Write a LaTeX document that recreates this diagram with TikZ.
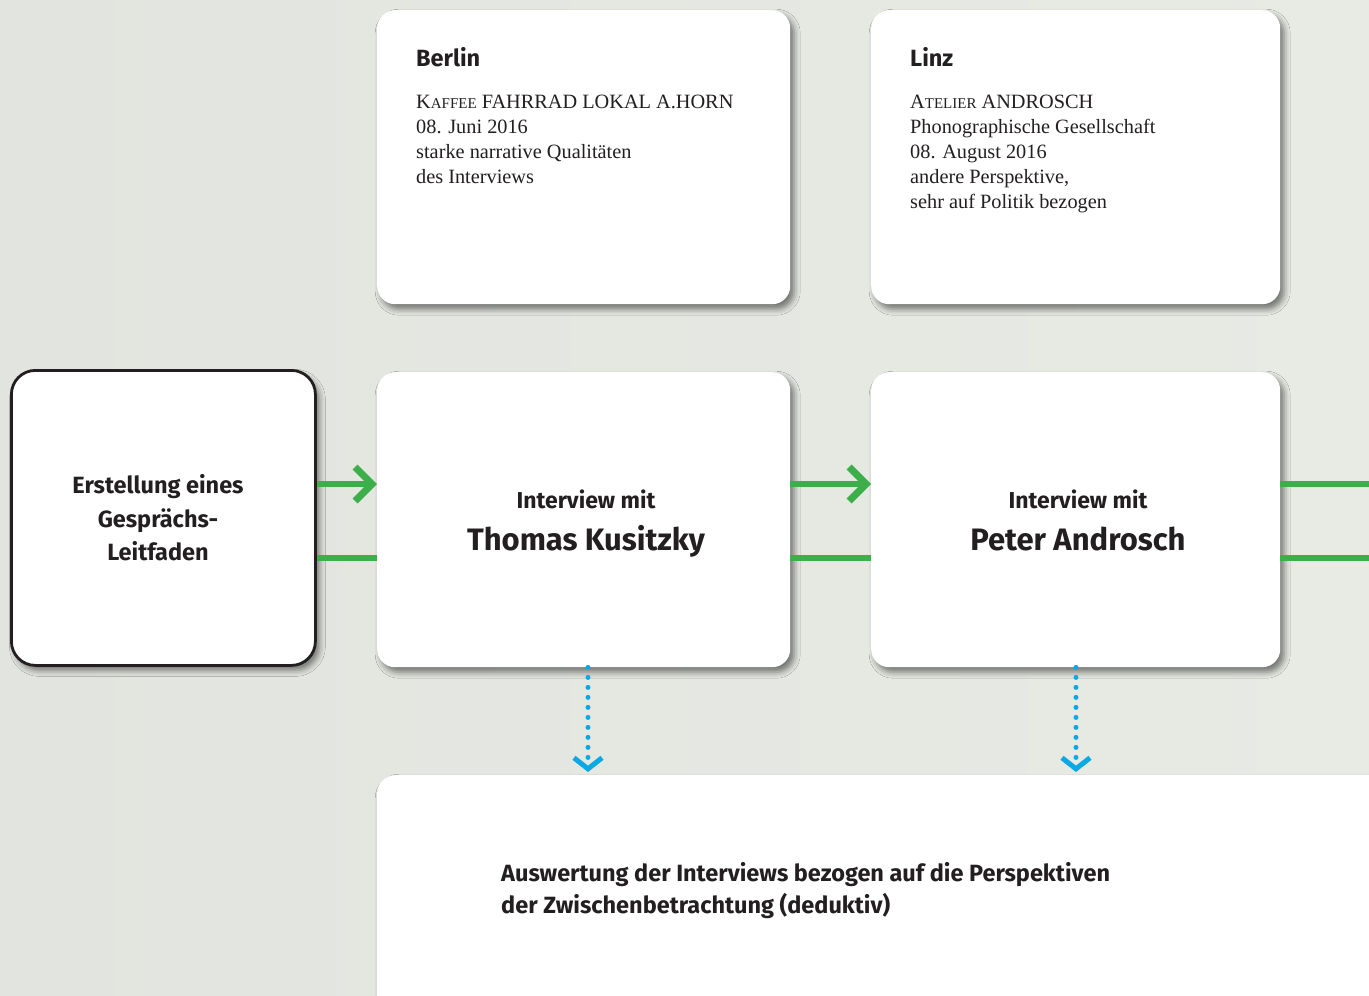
\documentclass[tikz,border=0pt]{standalone}
\usepackage{fontspec}
\setmainfont{Liberation Serif}
\newfontfamily\dinfont{Fira Sans}
\usetikzlibrary{shadows.blur,arrows.meta}
\definecolor{bgL}{HTML}{E2E4DF}
\definecolor{bgR}{HTML}{E8EBE4}
\definecolor{ink}{HTML}{231F20}
\definecolor{grn}{HTML}{3DAF4A}
\definecolor{blu}{HTML}{0AA9E6}
\newcommand\fakesc[2]{#1{\fontsize{15}{15}\selectfont #2}}
\tikzset{
  card/.style={fill=white, rounded corners=18pt, inner sep=0pt, anchor=north west,
    blur shadow={shadow xshift=4pt, shadow yshift=-5pt, shadow blur radius=6pt, shadow opacity=50}},
  leadcard/.style={card, draw=ink, line width=2.8pt, rounded corners=24pt},
  greenline/.style={draw=grn, line width=6.5pt},
  greenarrow/.style={greenline, -{Straight Barb[length=17pt, width=34pt, line width=7pt]}},
  bluedots/.style={draw=blu, line width=5pt, line cap=round, dash pattern=on 0pt off 10pt,
    -{Straight Barb[length=11pt, width=28pt, line width=5pt]}},
  cardtitle/.style={font=\dinfont\bfseries\fontsize{23.5}{26}\selectfont, text=ink, anchor=base west, inner sep=0pt},
  cardbody/.style={font=\fontsize{20.3}{25}\selectfont, text=ink, anchor=north west, align=left, inner sep=0pt},
  smalllabel/.style={font=\dinfont\bfseries\fontsize{23}{26}\selectfont, text=ink, inner sep=0pt},
  biglabel/.style={font=\dinfont\bfseries\fontsize{31}{34}\selectfont, text=ink, inner sep=0pt},
}
\begin{document}
\begin{tikzpicture}[x=1pt, y=-1pt]
\useasboundingbox (0,0) rectangle (1369,996);
\clip (0,0) rectangle (1369,996);
\fill[left color=bgL, right color=bgR] (0,0) rectangle (1369,996);

% cards
\node[card, minimum width=413pt, minimum height=294pt] (berlin) at (377,10) {};
\node[card, minimum width=409pt, minimum height=294pt] (linz) at (871,10) {};
\node[leadcard, minimum width=304pt, minimum height=295pt] (lead) at (10,369) {};
\node[card, minimum width=413pt, minimum height=295pt] (thomas) at (377,372) {};
\node[card, minimum width=409pt, minimum height=295pt] (peter) at (871,372) {};
\node[card, minimum width=1100pt, minimum height=330pt] (eval) at (377,775) {};

% card texts
\node[cardtitle] (berlinT) at (416,66) {Berlin};
\node[cardbody] (berlinB) at (416,94.5) {\fakesc{K}{AFFEE} FAHRRAD LOKAL A.HORN\\08. Juni 2016\\starke narrative Qualitäten\\des Interviews};
\node[cardtitle] (linzT) at (910,66) {Linz};
\node[cardbody] (linzB) at (910,94.5) {\fakesc{A}{TELIER} ANDROSCH\\Phonographische Gesellschaft\\08. August 2016\\andere Perspektive,\\sehr auf Politik bezogen};

\node[smalllabel, align=center, font=\dinfont\bfseries\fontsize{23.5}{33.5}\selectfont] (leadT) at (158,518) {Erstellung eines\\Gesprächs-\\Leitfaden};

\node[smalllabel, anchor=base] (thomasA) at (586,508) {Interview mit};
\node[biglabel, anchor=base] (thomasB) at (586,550) {Thomas Kusitzky};
\node[smalllabel, anchor=base] (peterA) at (1078,508) {Interview mit};
\node[biglabel, anchor=base] (peterB) at (1078,550) {Peter Androsch};

\node[smalllabel, anchor=base west, align=left, font=\dinfont\bfseries\fontsize{23.5}{32}\selectfont] (evalT) at (501,913) {Auswertung der Interviews bezogen auf die Perspektiven\\der Zwischenbetrachtung (deduktiv)};

% connector levels
\coordinate (g1) at (0,484);
\coordinate (g2) at (0,558);
\coordinate (edge) at (1369,0);
\coordinate (d1) at (588,772);
\coordinate (d2) at (1076,772);

% green connectors
\draw[greenarrow] (lead.east |- g1) -- (thomas.west |- g1);
\draw[greenline] (lead.east |- g2) -- (thomas.west |- g2);
\draw[greenarrow] (thomas.east |- g1) -- (peter.west |- g1);
\draw[greenline] (thomas.east |- g2) -- (peter.west |- g2);
\draw[greenline] (peter.east |- g1) -- (edge |- g1);
\draw[greenline] (peter.east |- g2) -- (edge |- g2);

% blue dotted connectors
\draw[bluedots] (thomas.south -| d1) -- (d1);
\draw[bluedots] (peter.south -| d2) -- (d2);
\end{tikzpicture}
\end{document}
